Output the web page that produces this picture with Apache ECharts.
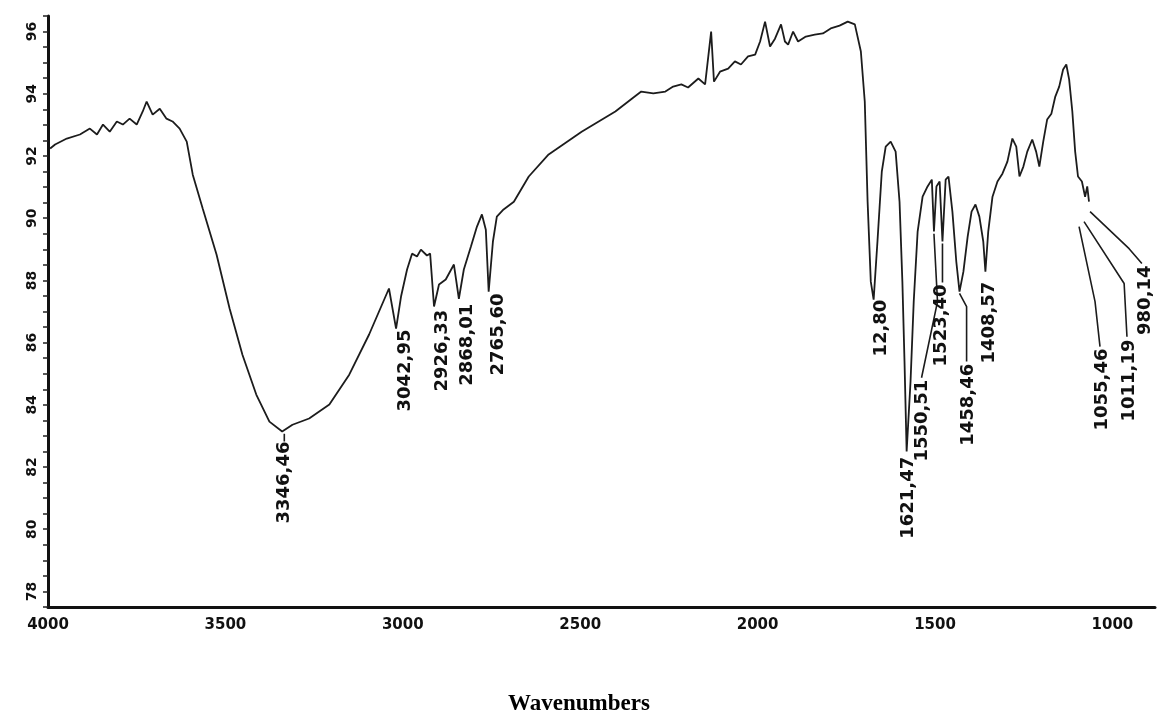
<!DOCTYPE html>
<html>
<head>
<meta charset="utf-8">
<script src="https://cdn.jsdelivr.net/npm/echarts@6/dist/echarts.min.js"></script>
<style>
html,body{margin:0;padding:0;background:#fff;}
#chart{width:1158px;height:713px;}
</style>
</head>
<body>
<div id="chart"></div>
<script>
// Spectrum (wavenumber cm-1, transmittance %)
var specW = [3994,3980,3947,3910,3882,3862,3845,3826,3806,3789,3770,3750,3733,3722,3705,3685,3666,3649,3629,3609,3592,3564,3525,3488,3452,3413,3376,3340,3311,3264,3207,3151,3095,3039,3019,3005,2988,2974,2960,2949,2932,2923,2912,2898,2879,2856,2842,2828,2808,2791,2777,2766,2758,2746,2735,2716,2687,2645,2589,2496,2401,2350,2328,2294,2260,2238,2215,2196,2167,2148,2131,2123,2106,2083,2064,2047,2027,2007,1993,1979,1965,1951,1934,1923,1914,1900,1886,1864,1839,1816,1794,1769,1746,1726,1709,1698,1690,1681,1673,1662,1650,1639,1625,1611,1600,1592,1586,1580,1569,1560,1549,1535,1521,1509,1503,1496,1487,1479,1470,1462,1451,1440,1431,1420,1408,1397,1386,1375,1364,1358,1350,1338,1324,1310,1296,1282,1271,1262,1251,1240,1226,1215,1206,1195,1184,1172,1161,1150,1139,1130,1122,1113,1105,1097,1086,1077,1071,1066];
var specT = [92.24,92.37,92.56,92.69,92.88,92.69,93.01,92.78,93.11,93.01,93.20,93.01,93.43,93.75,93.33,93.52,93.20,93.11,92.88,92.46,91.40,90.31,88.83,87.09,85.61,84.33,83.46,83.14,83.36,83.56,84.01,84.97,86.26,87.74,86.45,87.48,88.35,88.86,88.77,88.99,88.80,88.86,87.16,87.87,88.03,88.51,87.41,88.35,89.09,89.73,90.12,89.63,87.64,89.25,90.05,90.28,90.53,91.34,92.05,92.78,93.43,93.88,94.07,94.01,94.07,94.23,94.30,94.20,94.49,94.30,96.00,94.39,94.71,94.81,95.04,94.94,95.20,95.26,95.68,96.32,95.52,95.77,96.23,95.68,95.58,96.00,95.68,95.84,95.90,95.94,96.10,96.19,96.32,96.23,95.36,93.75,90.53,87.96,87.38,89.29,91.50,92.30,92.46,92.14,90.53,87.96,85.39,82.50,84.75,87.32,89.57,90.69,91.02,91.24,89.57,91.02,91.18,89.25,91.24,91.34,90.21,88.60,87.64,88.28,89.41,90.21,90.44,90.05,89.25,88.28,89.57,90.69,91.18,91.43,91.82,92.56,92.30,91.34,91.66,92.14,92.53,92.14,91.66,92.46,93.17,93.36,93.91,94.23,94.78,94.94,94.46,93.43,92.14,91.34,91.18,90.69,91.02,90.53];

// Peak labels: text and where the top of each label sits
var peakText = ['3346,46','3042,95','2926,33','2868,01','2765,60','12,80','1621,47','1550,51','1523,40','1458,46','1408,57','1055,46','1011,19','980,14'];
var peakLabelW = [3334,2994,2890,2817,2730,1650,1574,1535,1482,1406,1347,1029,951,908];
var peakLabelT = [82.82,86.42,87.06,87.25,87.58,87.38,82.33,84.81,87.87,85.32,87.96,85.81,86.10,88.48];

// Leader lines (wavenumber, transmittance pairs)
var leader3346 = [[3334,83.07],[3334,82.82]];
var leader1550 = [[1503,89.50],[1493,87.32],[1538,84.87]];
var leader1523 = [[1479,89.19],[1479,87.93]];
var leader1458 = [[1431,87.58],[1411,87.16],[1411,85.39]];
var leader1055 = [[1094,89.73],[1049,87.32],[1035,85.87]];
var leader1011 = [[1080,89.89],[967,87.90],[959,86.19]];
var leader980  = [[1063,90.21],[953,89.02],[917,88.54]];

var xTitle = 'Wavenumbers';

var chart = echarts.init(document.getElementById('chart'), null, {renderer:'canvas'});
var spec = specW.map(function(w,i){return [w, specT[i]];});
var peaks = peakText.map(function(t,i){return [peakLabelW[i], peakLabelT[i], i];});
var leaders = [leader3346, leader1550, leader1523, leader1458, leader1055, leader1011, leader980];

var series = [{
  type:'line', data: spec, showSymbol:false, symbol:'none',
  lineStyle:{color:'#1c1c1c', width:1.8}, animation:false, z:3
}];
leaders.forEach(function(L){
  series.push({type:'line', data:L, showSymbol:false, symbol:'none',
    lineStyle:{color:'#1c1c1c', width:1.6}, animation:false, z:3});
});
series.push({
  type:'custom', data: peaks, animation:false, z:4,
  renderItem: function(params, api){
    var p = api.coord([api.value(0), api.value(1)]);
    return {type:'text', x:p[0], y:p[1], rotation: Math.PI/2,
      style:{text: peakText[api.value(2)], font:'bold 18px "DejaVu Sans"', fill:'#111',
        align:'right', verticalAlign:'middle'}};
  }
});

chart.setOption({
  backgroundColor:'#ffffff',
  animation:false,
  title:{text:xTitle, left:'center', top:688,
    textStyle:{fontFamily:'"Liberation Serif", serif', fontWeight:'bold', fontSize:23, color:'#000'}},
  grid:{left:48, right:0, top:16, bottom:106, containLabel:false},
  xAxis:{type:'value', inverse:true, min:880, max:4000, interval:20,
    axisLine:{show:true, lineStyle:{color:'#111', width:3}},
    axisTick:{show:false}, splitLine:{show:false},
    axisLabel:{margin:11, color:'#111', fontFamily:'DejaVu Sans', fontWeight:'bold', fontSize:15,
      formatter:function(v){return (v % 500 === 0) ? String(v) : '';}}
  },
  yAxis:{type:'value', min:77.5, max:96.5, interval:0.5,
    axisLine:{show:true, lineStyle:{color:'#111', width:3}},
    axisTick:{show:true, length:5, lineStyle:{color:'#222', width:1.5}},
    splitLine:{show:false},
    axisLabel:{margin:9, rotate:90, color:'#111', fontFamily:'DejaVu Sans', fontWeight:'bold', fontSize:14,
      formatter:function(v){return (Math.abs(v % 2) < 1e-9) ? String(v) : '';}}
  },
  series: series
});
</script>
</body>
</html>
